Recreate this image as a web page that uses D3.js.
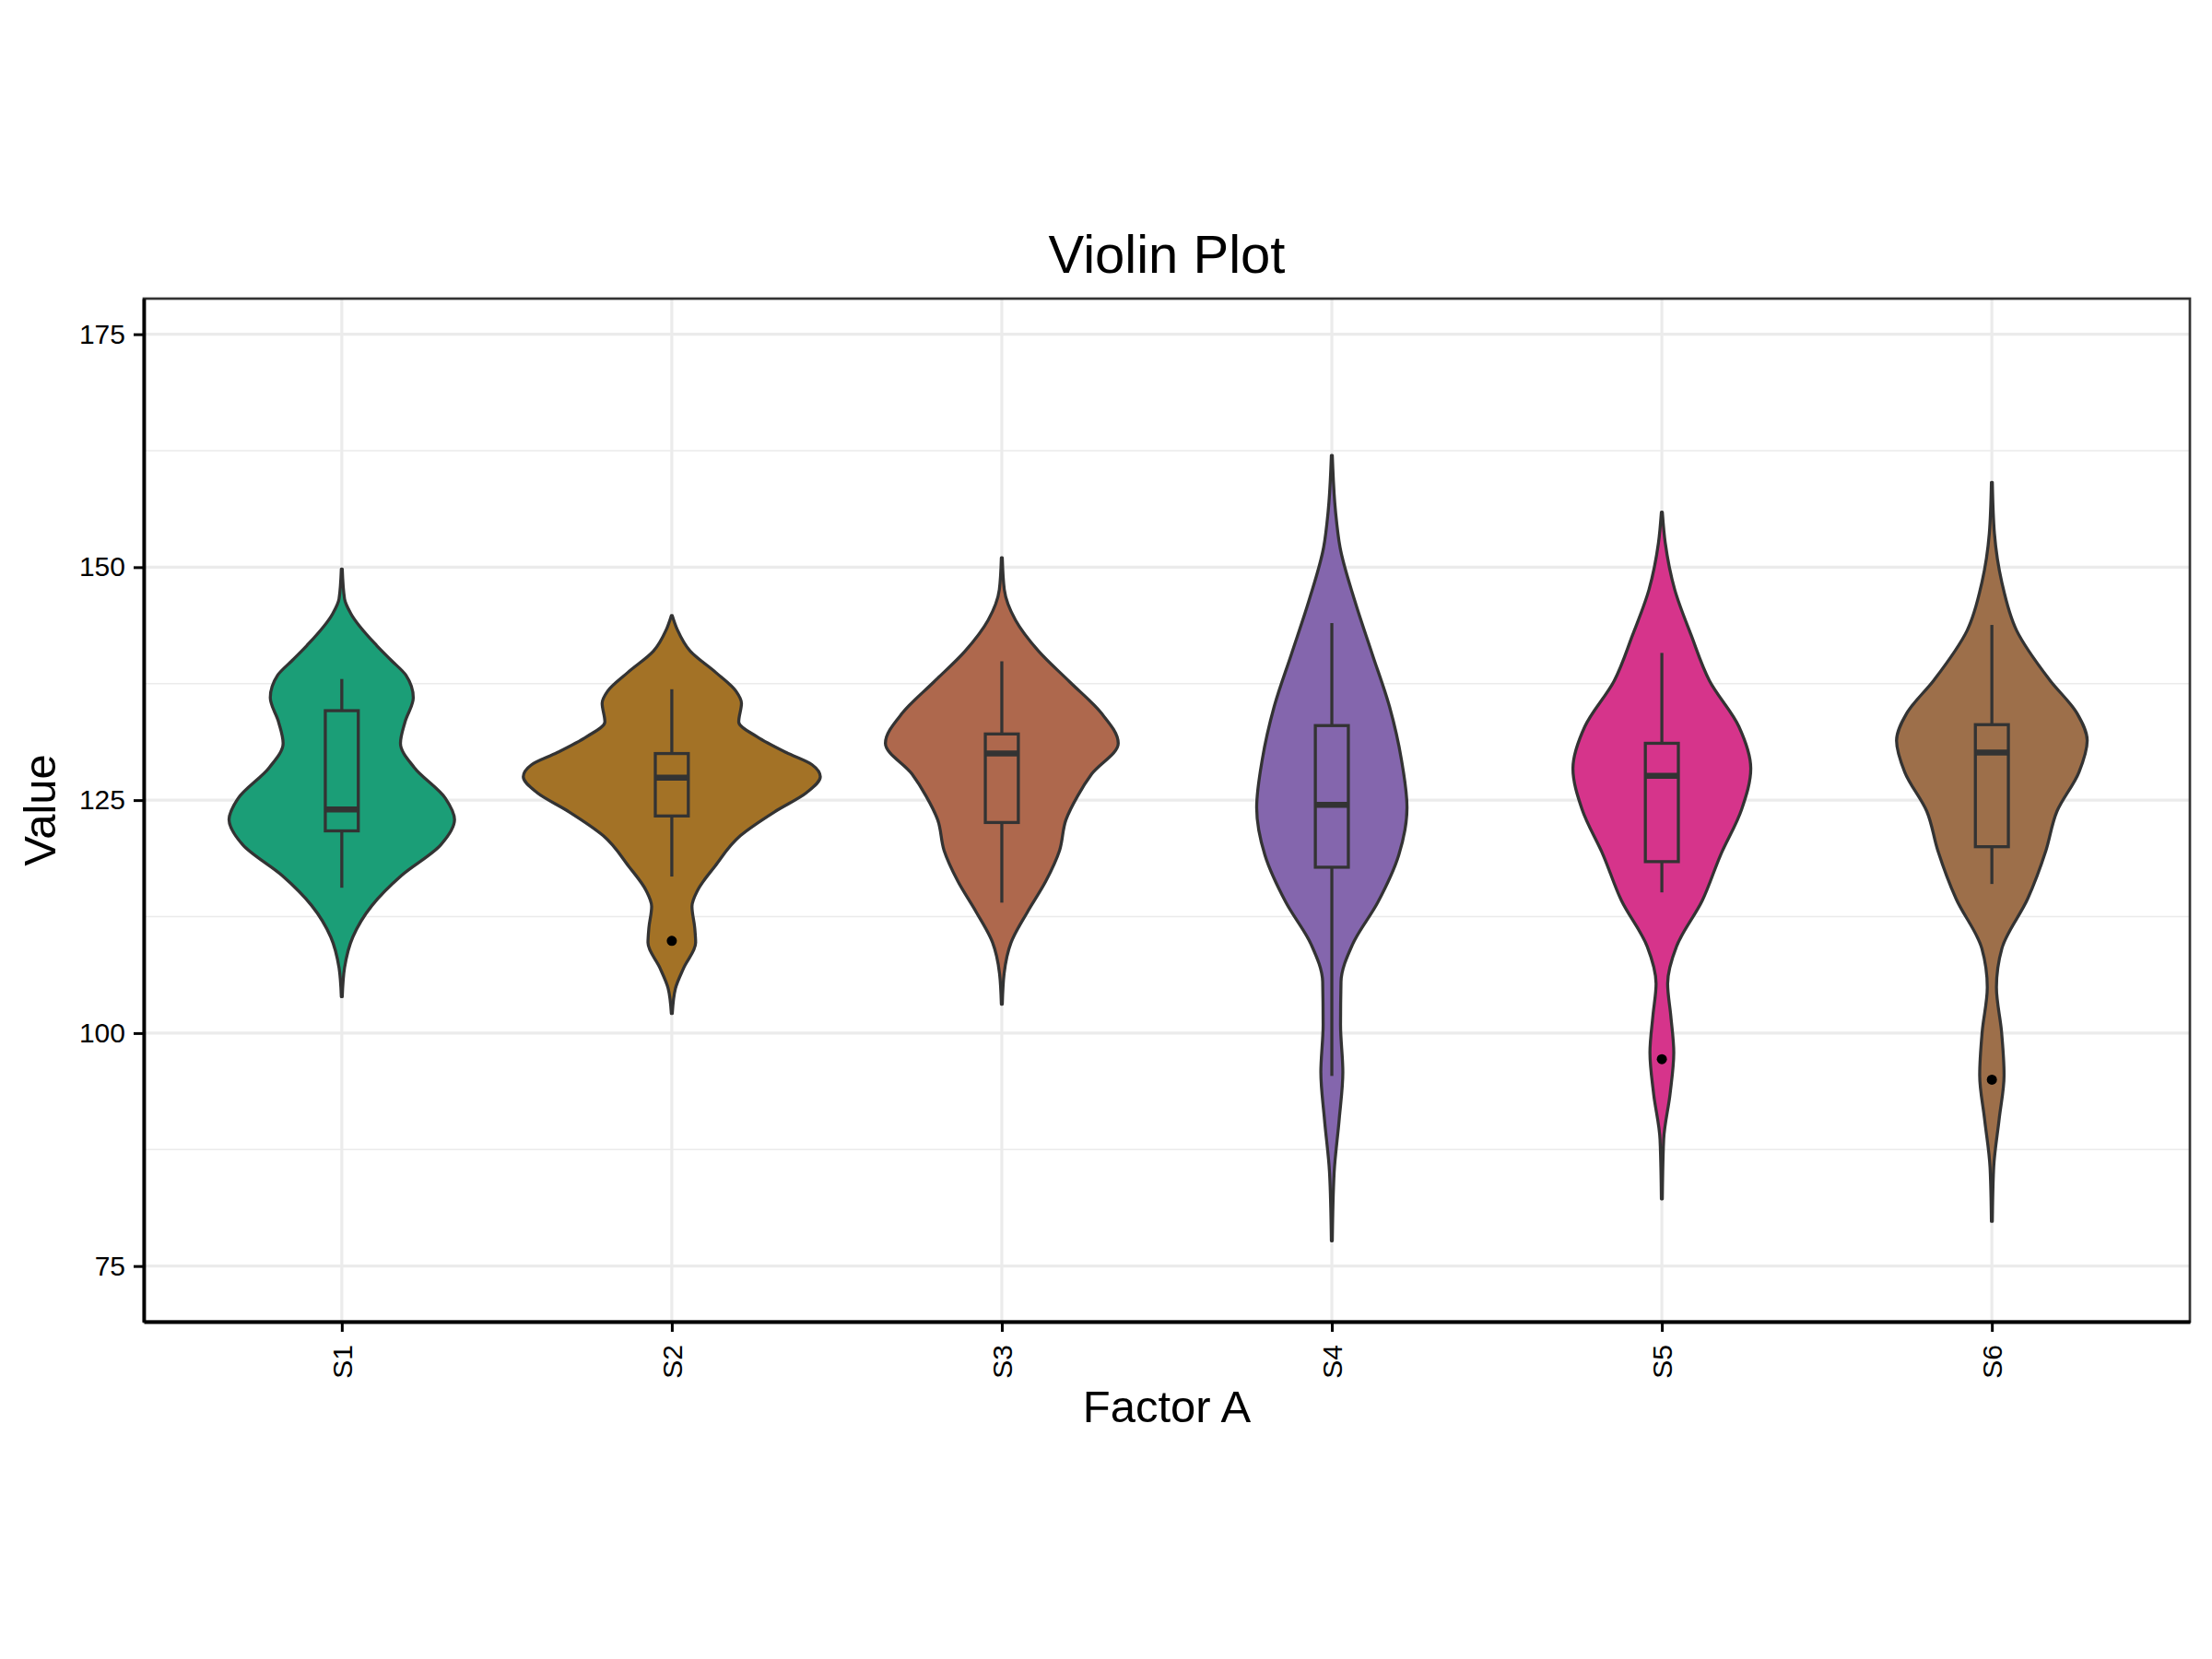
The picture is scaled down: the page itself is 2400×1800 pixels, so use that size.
<!DOCTYPE html>
<html>
<head>
<meta charset="utf-8">
<script src="https://cdn.jsdelivr.net/npm/d3@7"></script>
<style>
  body { margin: 0; background: #ffffff; }
  text { font-family: "Liberation Sans", Arial, sans-serif; }
</style>
</head>
<body>
<svg id="canvas" width="2400" height="1800"></svg>
<script>
'use strict';

// panel edges inside the 2400x1800 canvas
var margin = {top: 324, right: 24, bottom: 366, left: 156};
var width = 2400;
var height = 1800;

// groups and fills
var groups = ['S1', 'S2', 'S3', 'S4', 'S5', 'S6'];
var fills = ['#1B9E77', '#A37226', '#AE684D', '#8466AD', '#D6348B', '#9D6F4A'];

// violin outlines: value and relative density
var densityValues = [
  [149.8, 146.6, 145.0, 141.6, 140.0, 138.4, 136.0, 133.4, 131.1, 128.5, 125.2, 122.9, 120.2, 116.9, 113.7, 110.3, 107.0, 103.9],
  [144.8, 143.3, 141.0, 138.7, 136.7, 135.4, 133.4, 131.8, 130.1, 128.8, 127.5, 125.8, 123.8, 121.2, 117.9, 115.3, 113.6, 111.3, 109.7, 107.0, 104.8, 102.1],
  [151.0, 147.6, 144.3, 141.0, 137.7, 134.4, 131.1, 127.8, 125.5, 122.9, 119.6, 116.3, 113.0, 109.7, 106.4, 103.1],
  [162.0, 156.0, 152.1, 146.4, 140.7, 135.0, 129.3, 124.2, 119.1, 114.0, 109.5, 105.5, 100.9, 95.8, 90.7, 85.0, 77.7],
  [155.9, 152.6, 147.6, 142.7, 137.8, 132.9, 128.4, 124.0, 119.1, 114.2, 109.3, 105.3, 101.9, 97.9, 93.5, 88.6, 82.2],
  [159.1, 153.6, 148.4, 143.2, 137.9, 134.3, 131.4, 128.0, 123.8, 119.6, 114.4, 109.1, 104.9, 100.2, 95.5, 90.8, 85.6, 79.8]
];
var densities = [
  [0.5, 3, 10, 38, 54, 70, 78, 69, 64, 79, 113, 123, 108, 65, 33, 12, 3, 0.5],
  [0.5, 6, 20, 48, 70, 76, 73, 93, 125, 153, 162, 147, 113, 75, 47, 28, 22, 25, 26, 13, 4, 0.5],
  [0.5, 2.7, 15, 40, 74, 108, 127, 98, 83, 70, 63, 48, 28, 10, 2.5, 0.5],
  [0.5, 4, 9, 25, 44, 63, 76, 82, 73, 50, 22.5, 10, 9.5, 12, 8, 2.5, 0.5],
  [0.5, 3.7, 14, 32, 52, 84, 97, 87, 64, 44, 16, 6.3, 9.7, 13, 9, 2, 0.5],
  [0.5, 2.8, 10.8, 27, 63, 93, 104, 95, 71, 59, 39, 11, 5, 10.5, 13.3, 8, 2, 0.5]
];

// box plot statistics
var whiskerLow = [115.6, 116.8, 114.0, 95.4, 115.1, 116.0];
var q1 = [121.7, 123.3, 122.6, 117.8, 118.4, 120.0];
var medians = [124.0, 127.4, 130.0, 124.5, 127.6, 130.1];
var q3 = [134.6, 130.0, 132.1, 133.0, 131.1, 133.1];
var whiskerHigh = [138.0, 136.9, 139.9, 144.0, 140.8, 143.8];
var outliers = [[], [109.9], [], [], [97.2], [95.0]];

// axis ticks
var majorTicks = [75, 100, 125, 150, 175];
var minorTicks = [87.5, 112.5, 137.5, 162.5];

var svg = d3.select('svg#canvas');
var panelLeft = margin.left, panelRight = width - margin.right;
var panelTop = margin.top, panelBottom = height - margin.bottom;

/* scales: discrete x with ggplot-like padding, linear y */
var x = d3.scalePoint().domain(groups).range([panelLeft, panelRight]).padding(0.6);
var y = d3.scaleLinear().domain([69.03, 178.82]).range([panelBottom, panelTop]);
var band = x.step();
var w = d3.scaleLinear()
  .domain([0, d3.max(densities.flat())])
  .range([0, band * 0.45]);

/* grid */
var grid = svg.append('g').attr('id', 'grid');
grid.selectAll('line.minor').data(minorTicks).join('line')
  .attr('class', 'minor')
  .attr('x1', panelLeft).attr('x2', panelRight)
  .attr('y1', d => y(d)).attr('y2', d => y(d))
  .attr('stroke', '#EBEBEB').attr('stroke-width', 1.6);
grid.selectAll('line.major').data(majorTicks).join('line')
  .attr('class', 'major')
  .attr('x1', panelLeft).attr('x2', panelRight)
  .attr('y1', d => y(d)).attr('y2', d => y(d))
  .attr('stroke', '#EBEBEB').attr('stroke-width', 3.2);
grid.selectAll('line.vert').data(groups).join('line')
  .attr('class', 'vert')
  .attr('x1', d => x(d)).attr('x2', d => x(d))
  .attr('y1', panelTop).attr('y2', panelBottom)
  .attr('stroke', '#EBEBEB').attr('stroke-width', 3.2);

/* violins: outline is monotone in y, so the smoothing never overshoots */
var area = d3.area()
  .curve(d3.curveMonotoneY);

var plot = svg.append('g').attr('id', 'violins');
groups.forEach(function(g, i){
  let cx = x(g);
  let pts = densityValues[i].map(function(v, j){ return {v: v, d: densities[i][j]}; });
  area.y(d => y(d.v)).x0(d => cx - w(d.d)).x1(d => cx + w(d.d));
  plot.append('path')
    .attr('d', area(pts))
    .attr('fill', fills[i])
    .attr('stroke', '#333333')
    .attr('stroke-width', 3.3)
    .attr('stroke-linejoin', 'round');

  /* box plot on top */
  let bw = band * 0.1;
  let box = plot.append('g');
  box.append('line')
    .attr('x1', cx).attr('x2', cx)
    .attr('y1', y(whiskerHigh[i])).attr('y2', y(q3[i]));
  box.append('line')
    .attr('x1', cx).attr('x2', cx)
    .attr('y1', y(q1[i])).attr('y2', y(whiskerLow[i]));
  box.selectAll('line').attr('stroke', '#333333').attr('stroke-width', 3.3);
  box.append('rect')
    .attr('x', cx - bw / 2).attr('width', bw)
    .attr('y', y(q3[i])).attr('height', y(q1[i]) - y(q3[i]))
    .attr('fill', fills[i])
    .attr('stroke', '#333333').attr('stroke-width', 3.3);
  box.append('line')
    .attr('x1', cx - bw / 2).attr('x2', cx + bw / 2)
    .attr('y1', y(medians[i])).attr('y2', y(medians[i]))
    .attr('stroke', '#333333').attr('stroke-width', 6.5);
  box.selectAll('circle').data(outliers[i]).join('circle')
    .attr('cx', cx).attr('cy', d => y(d)).attr('r', 5.5)
    .attr('fill', '#000000');
});

/* panel border and axis lines */
svg.append('rect')
  .attr('x', panelLeft).attr('y', panelTop)
  .attr('width', panelRight - panelLeft).attr('height', panelBottom - panelTop)
  .attr('fill', 'none').attr('stroke', '#333333').attr('stroke-width', 2.7);

var yAxis = d3.axisLeft(y).tickValues(majorTicks)
  .tickSizeInner(11).tickSizeOuter(0).tickPadding(9);
var gy = svg.append('g')
  .attr('transform', 'translate(' + panelLeft + ',0)')
  .call(yAxis);
gy.select('.domain').attr('stroke', '#000').attr('stroke-width', 3.8);
gy.selectAll('.tick line').attr('stroke', '#000').attr('stroke-width', 3);
gy.selectAll('.tick text')
  .attr('font-size', 30).attr('fill', '#000')
  .attr('font-family', '"Liberation Sans", Arial, sans-serif');

var xAxis = d3.axisBottom(x).tickSizeInner(11).tickSizeOuter(0);
var gx = svg.append('g')
  .attr('transform', 'translate(0,' + panelBottom + ')')
  .call(xAxis);
gx.select('.domain').attr('stroke', '#000').attr('stroke-width', 3.8);
gx.selectAll('.tick line').attr('stroke', '#000').attr('stroke-width', 3);
gx.selectAll('.tick text')
  .attr('font-size', 30).attr('fill', '#000')
  .attr('font-family', '"Liberation Sans", Arial, sans-serif')
  .attr('transform', 'rotate(-90)')
  .attr('x', -25).attr('y', 0).attr('dy', '0.35em')
  .style('text-anchor', 'end');

/* titles */
svg.append('text')
  .attr('x', (panelLeft + panelRight) / 2).attr('y', 296)
  .attr('text-anchor', 'middle').attr('font-size', 58)
  .text('Violin Plot');
svg.append('text')
  .attr('x', (panelLeft + panelRight) / 2).attr('y', 1543)
  .attr('text-anchor', 'middle').attr('font-size', 49)
  .text('Factor A');
svg.append('text')
  .attr('transform', 'translate(60,' + ((panelTop + panelBottom) / 2) + ') rotate(-90)')
  .attr('text-anchor', 'middle').attr('font-size', 49)
  .text('Value');
</script>
</body>
</html>
